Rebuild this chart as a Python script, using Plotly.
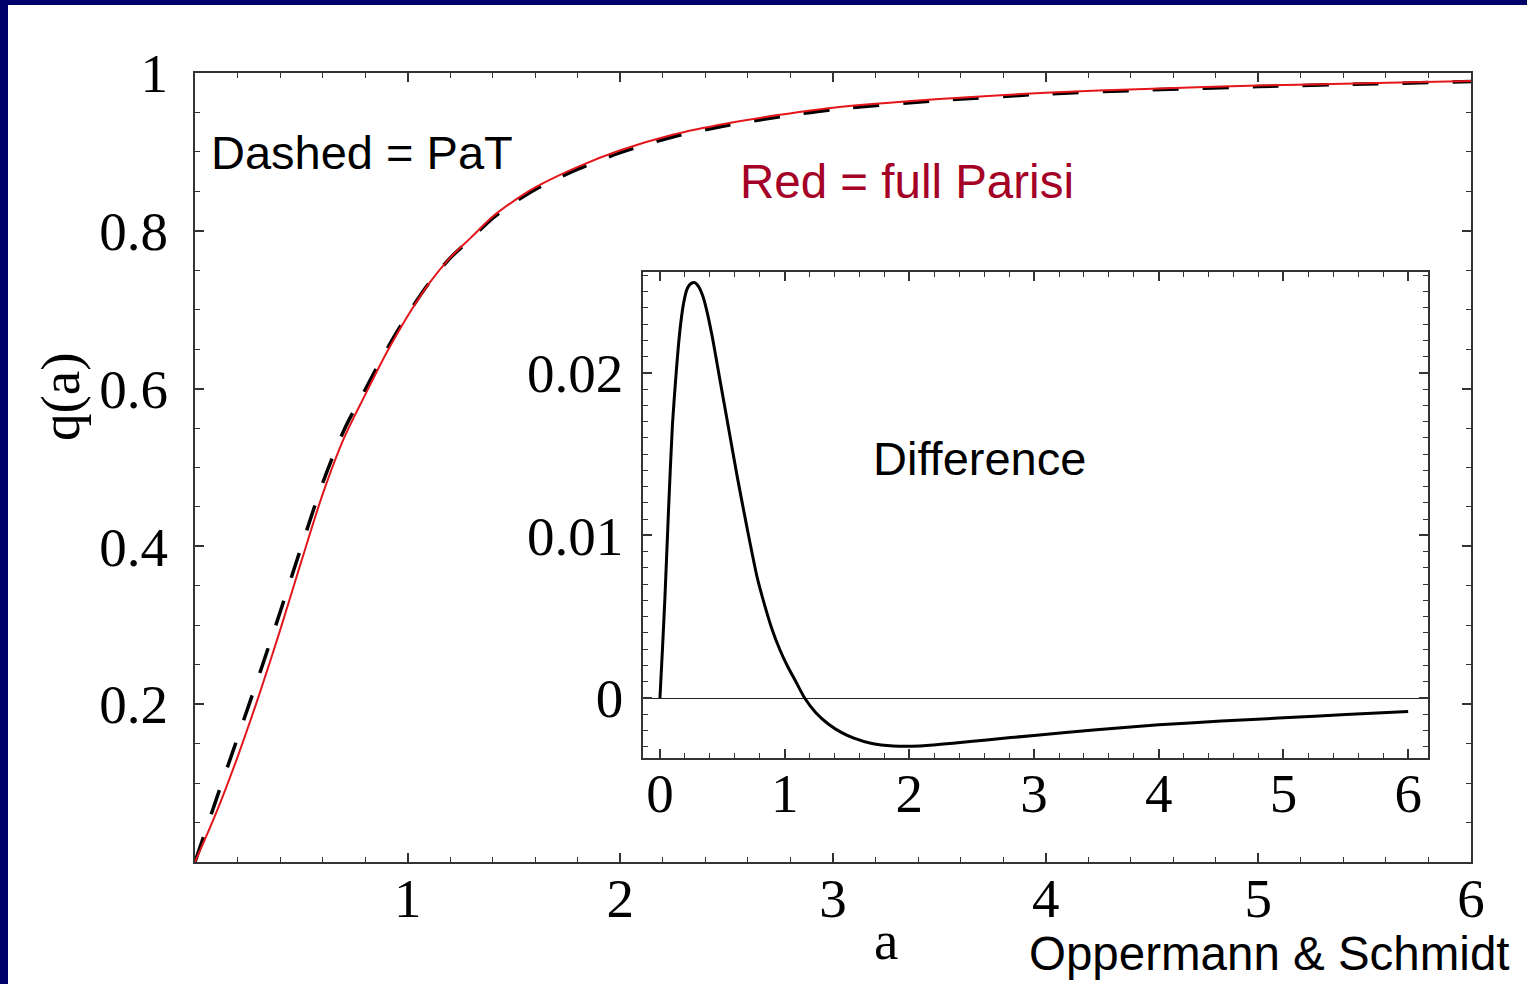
import plotly.graph_objects as go

# ---------------- data ----------------
a_main = [0, 0.1, 0.2, 0.3, 0.4, 0.5, 0.6, 0.7, 0.8, 0.9, 1.0, 1.1, 1.2, 1.3, 1.4,
          1.5, 1.6, 1.8, 2.0, 2.25, 2.5, 2.75, 3.0, 3.5, 4.0, 4.5, 5.0, 5.5, 6.0]
q_parisi = [0, 0.0625, 0.133, 0.2105, 0.2935, 0.381, 0.466, 0.537, 0.592, 0.645, 0.692,
            0.733, 0.766, 0.792, 0.818, 0.838, 0.855, 0.881, 0.902, 0.922, 0.936, 0.947,
            0.956, 0.967, 0.975, 0.980, 0.984, 0.987, 0.990]
q_pat = [0, 0.0793, 0.1573, 0.2358, 0.3165, 0.3995, 0.480, 0.547, 0.5986, 0.6489, 0.694,
         0.7336, 0.7655, 0.7906, 0.816, 0.8356, 0.8524, 0.8781, 0.899, 0.9192, 0.9334,
         0.9445, 0.9537, 0.9651, 0.9734, 0.9786, 0.9828, 0.986, 0.9892]

a_diff = [0, 0.02, 0.04, 0.07, 0.1, 0.13, 0.16, 0.19, 0.22, 0.25, 0.28, 0.31, 0.34,
          0.37, 0.42, 0.48, 0.55, 0.62, 0.7, 0.78, 0.84, 0.9, 0.96, 1.02, 1.09, 1.16,
          1.25, 1.35, 1.45, 1.55, 1.7, 1.87, 2.08, 2.35, 2.62, 3.0, 3.5, 4.0, 4.5, 5.0,
          5.5, 6.0]
q_diff = [0, 0.0030, 0.0062, 0.0118, 0.0168, 0.0200, 0.0226, 0.0243, 0.0252, 0.0255,
          0.02555, 0.0253, 0.0248, 0.0240, 0.0222, 0.0196, 0.0166, 0.0136, 0.0104, 0.0074,
          0.0057, 0.0042, 0.0030, 0.0020, 0.0010, 0.0, -0.0009, -0.0016, -0.0021,
          -0.00245, -0.0028, -0.00295, -0.00295, -0.00278, -0.00258, -0.0023, -0.00195,
          -0.00165, -0.00142, -0.00122, -0.00102, -0.00083]

main_xticks = [1, 2, 3, 4, 5, 6]
main_yticks = [0.2, 0.4, 0.6, 0.8, 1.0]
main_yticktext = ["0.2", "0.4", "0.6", "0.8", "1"]
inset_xticks = [0, 1, 2, 3, 4, 5, 6]
inset_yticks = [0, 0.01, 0.02]
inset_yticktext = ["0", "0.01", "0.02"]

# ---------------- layout helpers ----------------
W, H = 1527, 984


def px(x):
    return x / W


def py(y):
    return 1 - y / H


SERIF = "Liberation Serif"
SANS = "Liberation Sans"
AXC = "#333333"

fig = go.Figure()
fig.add_trace(go.Scatter(x=a_main, y=q_pat, mode="lines",
                         line=dict(color="black", width=3.5, dash="26px,24px", shape="spline", smoothing=0.8),
                         xaxis="x", yaxis="y", showlegend=False, hoverinfo="skip"))
fig.add_trace(go.Scatter(x=a_main, y=q_parisi, mode="lines",
                         line=dict(color="#e3161c", width=2, shape="spline", smoothing=0.8),
                         xaxis="x", yaxis="y", showlegend=False, hoverinfo="skip"))
fig.add_trace(go.Scatter(x=a_diff, y=q_diff, mode="lines",
                         line=dict(color="black", width=3, shape="spline", smoothing=0.6),
                         xaxis="x2", yaxis="y2", showlegend=False, hoverinfo="skip"))


def axis(domain, rng, tickvals, ticktext, minor_dtick, anchor, standoff, linew=2, zeroline=False):
    return dict(
        domain=domain, range=rng, anchor=anchor,
        tickmode="array", tickvals=tickvals, ticktext=ticktext,
        ticks="inside", ticklen=9, tickwidth=1.5, tickcolor=AXC,
        showline=True, linecolor=AXC, linewidth=linew, mirror="allticks",
        showgrid=False, zeroline=zeroline, zerolinecolor="#222222", zerolinewidth=1.3,
        tickfont=dict(family=SERIF, size=55, color="black"),
        ticklabelstandoff=standoff, automargin=False, fixedrange=True,
        minor=dict(tickmode="linear", tick0=0, dtick=minor_dtick, ticks="inside",
                   ticklen=5, tickwidth=1.2, tickcolor=AXC, showgrid=False),
    )


fig.update_layout(
    width=W, height=H, autosize=False,
    margin=dict(l=0, r=0, t=0, b=0),
    paper_bgcolor="white", plot_bgcolor="white",
    xaxis=axis([px(195), px(1471)], [0, 6], main_xticks, [str(v) for v in main_xticks], 0.2, "y", -13),
    yaxis=axis([py(862), py(73)], [0, 1], main_yticks, main_yticktext, 0.05, "x", 14),
    xaxis2=axis([px(643), px(1428)], [-0.136, 6.159], inset_xticks, [str(v) for v in inset_xticks], 0.2, "y2", -14, linew=1.5),
    yaxis2=axis([py(758), py(272)], [-0.00369, 0.0262], inset_yticks, inset_yticktext, 0.001, "x2", 7, linew=1.5, zeroline=True),
    shapes=[
        dict(type="rect", xref="paper", yref="paper", x0=0, x1=px(8), y0=0, y1=1,
             fillcolor="#000068", line=dict(width=0), layer="above"),
        dict(type="rect", xref="paper", yref="paper", x0=0, x1=1, y0=py(5), y1=1,
             fillcolor="#000068", line=dict(width=0), layer="above"),
    ],
    annotations=[
        dict(text="Dashed = PaT", x=px(209), y=py(152), xref="paper", yref="paper",
             xanchor="left", yanchor="middle", showarrow=False,
             font=dict(family=SANS, size=47, color="black")),
        dict(text="Red = full Parisi", x=px(738), y=py(182), xref="paper", yref="paper",
             xanchor="left", yanchor="middle", showarrow=False,
             font=dict(family=SANS, size=47.5, color="#a50026")),
        dict(text="Difference", x=px(871), y=py(458), xref="paper", yref="paper",
             xanchor="left", yanchor="middle", showarrow=False,
             font=dict(family=SANS, size=47, color="black")),
        dict(text="Oppermann &amp; Schmidt", x=px(1027), y=py(953), xref="paper", yref="paper",
             xanchor="left", yanchor="middle", showarrow=False,
             font=dict(family=SANS, size=47.5, color="black")),
        dict(text="a", x=px(886), y=py(940), xref="paper", yref="paper",
             xanchor="center", yanchor="middle", showarrow=False,
             font=dict(family=SERIF, size=55, color="black")),
        dict(text="q(a)", x=px(60), y=py(397), xref="paper", yref="paper",
             xanchor="center", yanchor="middle", showarrow=False, textangle=-90,
             font=dict(family=SERIF, size=55, color="black")),
    ],
)

fig.write_html("out.html")
